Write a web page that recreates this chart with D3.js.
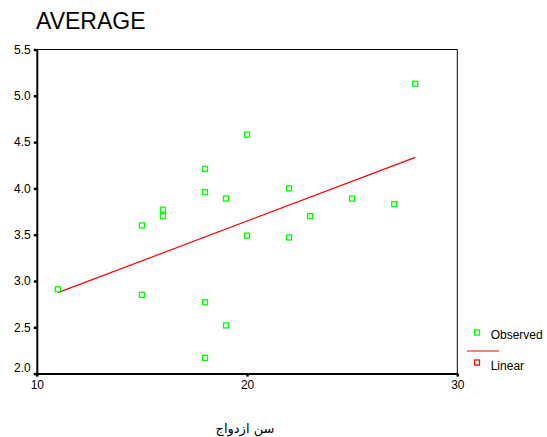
<!DOCTYPE html>
<html>
<head>
<meta charset="utf-8">
<script src="https://cdn.jsdelivr.net/npm/d3@7"></script>
<style>
  body { margin: 0; background: #fff; }
  svg { font-family: "Liberation Sans", Arial, "DejaVu Sans", sans-serif; }
</style>
</head>
<body>
<svg id="chart" width="547" height="437"></svg>
<script>
// marriage age vs. AVERAGE score
const ages = [11, 15, 15, 16, 16, 18, 18, 18, 18, 19, 19, 20, 20, 22, 22, 23, 25, 27, 28];
const averages = [2.91, 2.85, 3.60, 3.77, 3.70, 4.21, 3.96, 2.77, 2.17, 3.89, 2.52, 4.58, 3.49, 4.00, 3.47, 3.70, 3.89, 3.83, 5.13];
const xTicks = [10, 20, 30];
const yTicks = [2.0, 2.5, 3.0, 3.5, 4.0, 4.5, 5.0, 5.5];
const legendItems = ["Observed", "Linear"];

const points = ages.map((a, i) => ({ x: a, y: averages[i] }));

const svg = d3.select("#chart");

const x = d3.scaleLinear().domain([10, 30]).range([36.8, 457.3]);
const y = d3.scaleLinear().domain([2, 5.5]).range([373.6, 49.5]);

// title
svg.append("text")
    .attr("x", 36).attr("y", 29.3)
    .attr("font-size", 23)
    .text("AVERAGE");

// frame top + right
svg.append("line").attr("x1", x(10)).attr("x2", x(30)).attr("y1", y(5.5)).attr("y2", y(5.5))
    .attr("stroke", "#000").attr("stroke-width", 1);
svg.append("line").attr("x1", x(30)).attr("x2", x(30)).attr("y1", y(5.5)).attr("y2", y(2))
    .attr("stroke", "#000").attr("stroke-width", 1);

// axes
const yAxis = svg.append("g")
    .attr("transform", `translate(${x(10)},0)`)
    .call(d3.axisLeft(y).tickValues(yTicks).tickFormat(d3.format(".1f")).tickSize(3).tickSizeOuter(0).tickPadding(3));
const xAxis = svg.append("g")
    .attr("transform", `translate(0,${y(2)})`)
    .call(d3.axisBottom(x).tickValues(xTicks).tickFormat(d3.format("d")).tickSize(3).tickSizeOuter(0).tickPadding(4));

[yAxis, xAxis].forEach(g => {
    g.select(".domain").attr("stroke", "#000").attr("stroke-width", 2);
    g.selectAll(".tick line").attr("stroke", "#000").attr("stroke-width", 2.5);
    g.selectAll(".tick text").attr("font-size", 12).attr("fill", "#000")
        .attr("font-family", "Liberation Sans, Arial, sans-serif");
});
// first y label sits above the corner
yAxis.selectAll(".tick text").filter(d => d === 2).attr("dy", "-0.2em");

// x axis title
svg.append("text")
    .attr("x", 245).attr("y", 433)
    .attr("text-anchor", "middle")
    .attr("font-size", 13)
    .attr("font-family", "DejaVu Sans, sans-serif")
    .text("سن ازدواج");

// linear fit
const mx = d3.mean(points, d => d.x), my = d3.mean(points, d => d.y);
const slope = d3.sum(points, d => (d.x - mx) * (d.y - my)) / d3.sum(points, d => (d.x - mx) ** 2);
const icpt = my - slope * mx;
const xr = d3.extent(ages);
svg.append("path")
    .datum(xr.map(v => ({ x: v, y: icpt + slope * v })))
    .attr("fill", "none").attr("stroke", "#ff0000").attr("stroke-width", 1.2)
    .attr("d", d3.line().x(d => x(d.x)).y(d => y(d.y)));

// observed points
svg.selectAll("rect.pt")
    .data(points)
    .enter().append("rect")
    .attr("class", "pt")
    .attr("x", d => x(d.x) - 2.5)
    .attr("y", d => y(d.y) - 2.5)
    .attr("width", 5).attr("height", 5)
    .attr("fill", "#fff").attr("stroke", "#00ff00").attr("stroke-width", 1.3);

// legend
const lg = svg.append("g");
lg.append("rect").attr("x", 474.5).attr("y", 330).attr("width", 5).attr("height", 5)
    .attr("fill", "#fff").attr("stroke", "#00ff00").attr("stroke-width", 1.3);
lg.append("line").attr("x1", 467).attr("x2", 499).attr("y1", 351).attr("y2", 351)
    .attr("stroke", "#ff0000").attr("stroke-width", 1);
lg.append("rect").attr("x", 474.5).attr("y", 360).attr("width", 5).attr("height", 5)
    .attr("fill", "#fff").attr("stroke", "#ff0000").attr("stroke-width", 1.3);
lg.selectAll("text.lbl")
    .data(legendItems)
    .enter().append("text")
    .attr("class", "lbl")
    .attr("x", 490.7)
    .attr("y", (d, i) => 339 + i * 31)
    .attr("font-size", 12)
    .text(d => d);
</script>
</body>
</html>
